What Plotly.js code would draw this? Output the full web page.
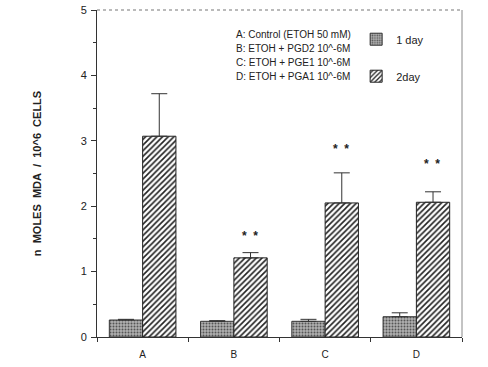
<!DOCTYPE html>
<html><head><meta charset="utf-8">
<script src="https://cdn.plot.ly/plotly-3.0.1.min.js"></script>
<style>body{margin:0;background:#fff}#c{width:488px;height:367px}</style>
</head><body><div id="c"></div>
<script>
const categories = ['A','B','C','D'];
const day1 = [0.26, 0.24, 0.24, 0.31];
const day1Err = [0.01, 0.01, 0.03, 0.06];
const day2 = [3.07, 1.21, 2.05, 2.06];
const day2Err = [0.65, 0.08, 0.46, 0.16];
const seriesNames = ['1 day', '2day'];
const legendLines = ['A: Control (ETOH 50 mM)', 'B: ETOH + PGD2 10^-6M', 'C: ETOH + PGE1 10^-6M', 'D: ETOH + PGA1 10^-6M'];
const starCats = ['B','C','D'];
const starY = [1.55, 2.88, 2.65];
const yTitle = 'n&nbsp; MOLES&nbsp; MDA&nbsp; /&nbsp; 10^6&nbsp; CELLS';

const font = {family: 'Liberation Sans, Arial, sans-serif', color: '#222'};
const traces = [
 {type:'bar', name:seriesNames[0], x:categories, y:day1, legendgroup:'g1',
  marker:{color:'#a0a0a0', line:{color:'#333', width:1},
    pattern:{shape:'.', fgcolor:'#555', bgcolor:'#b0b0b0', size:3, solidity:0.35}},
  error_y:{type:'data', symmetric:false, array:day1Err, arrayminus:[0,0,0,0], color:'#333', thickness:1, width:8}},
 {type:'bar', name:seriesNames[1], x:categories, y:day2, legendgroup:'g2',
  marker:{color:'#fff', line:{color:'#222', width:1},
    pattern:{shape:'/', fgcolor:'#222', bgcolor:'#fff', size:4, solidity:0.4}},
  error_y:{type:'data', symmetric:false, array:day2Err, arrayminus:[0,0,0,0], color:'#333', thickness:1, width:8}}
];
const annotations = legendLines.map((t,i)=>({xref:'paper', yref:'paper', x:0.376, y:0.925-i*0.043,
  xanchor:'left', yanchor:'middle', text:t, showarrow:false, font:{...font, size:10}}));
starCats.forEach((c,i)=>annotations.push({x:c, y:starY[i], xshift:16, text:'*&nbsp;&nbsp;*', showarrow:false,
  font:{...font, size:12, weight:'bold'}, yanchor:'middle'}));
const layout = {
  width:488, height:367, margin:{l:97, r:26, t:10, b:30},
  paper_bgcolor:'#fff', plot_bgcolor:'#fff', font:font,
  barmode:'group', bargap:0.27, bargroupgap:0,
  showlegend:true,
  legend:{x:0.71, y:0.955, xanchor:'left', yanchor:'top', bgcolor:'rgba(0,0,0,0)',
    font:{...font, size:11}, traceorder:'grouped', tracegroupgap:18, itemwidth:30},
  xaxis:{type:'category', showline:true, linecolor:'#333', linewidth:1, mirror:false,
    ticks:'outside', tickson:'boundaries', ticklen:4, tickcolor:'#333', ticklabelstandoff:8,
    tickfont:{...font, size:10}, showgrid:false, zeroline:false},
  yaxis:{range:[0,5], dtick:1, showline:true, linecolor:'#333', linewidth:1, mirror:false,
    ticks:'outside', ticklen:5, tickcolor:'#333', tickfont:{...font, size:11}, ticklabelstandoff:2,
    minor:{dtick:0.5, ticks:'outside', ticklen:3, tickcolor:'#333'},
    showgrid:false, zeroline:false,
    title:{text:yTitle, font:{...font, size:11, weight:'bold'}, standoff:36}},
  shapes:[
    {type:'line', xref:'paper', yref:'paper', x0:0, x1:1, y0:1, y1:1, line:{color:'#777', width:1.2, dash:'dot'}},
    {type:'line', xref:'paper', yref:'paper', x0:1, x1:1, y0:0, y1:1, line:{color:'#888', width:1}}
  ],
  annotations:annotations
};
Plotly.newPlot('c', traces, layout, {staticPlot:true});
</script></body></html>
